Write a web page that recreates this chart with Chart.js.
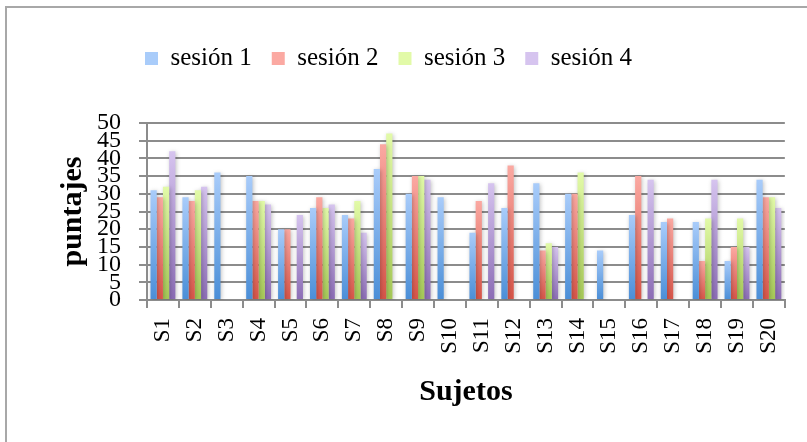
<!DOCTYPE html>
<html>
<head>
<meta charset="utf-8">
<script src="https://cdn.jsdelivr.net/npm/chart.js@4/dist/chart.umd.min.js"></script>
<style>
  html, body { margin: 0; padding: 0; background: #ffffff; }
  #wrap { width: 807px; height: 442px; position: relative; }
</style>
</head>
<body>
<div id="wrap"><canvas id="c" width="807" height="442"></canvas></div>
<script>
// Subjects on the x axis
const sujetos = ['S1','S2','S3','S4','S5','S6','S7','S8','S9','S10',
                 'S11','S12','S13','S14','S15','S16','S17','S18','S19','S20'];

// Scores per session (null = no score recorded)
const sesion1 = [31, 29, 36, 35, 20, 26, 24, 37, 30, 29, 19, 26, 33, 30, 14, 24, 22, 22, 11, 34];
const sesion2 = [29, 28, null, 28, 20, 29, 23, 44, 35, null, 28, 38, 14, 30, null, 35, 23, 11, 15, 29];
const sesion3 = [32, 31, null, 28, null, 26, 28, 47, 35, null, null, null, 16, 36, null, null, null, 23, 23, 29];
const sesion4 = [42, 32, null, 27, 24, 27, 19, null, 34, null, 33, null, 15, null, null, 34, null, 34, 15, 26];

const seriesNames = ['sesión 1', 'sesión 2', 'sesión 3', 'sesión 4'];

// Y axis tick values
const yTicks = [0, 5, 10, 15, 20, 25, 30, 35, 40, 45, 50];

// Light (top) and dark (bottom) gradient stops for each session
const palettes = [
  ['#a9ccfa', '#4a8ed7'],
  ['#fba9a2', '#d75448'],
  ['#e2faa8', '#a5c856'],
  ['#d6c4ef', '#8b6cb5']
];

const SERIF = "'Liberation Serif', 'DejaVu Serif', serif";
const GRID = '#8c8c8c';
const LEGEND_TOP = 26;

function barFill(c) {
  const chart = c.chart;
  const pal = palettes[c.datasetIndex];
  const ctx = chart.ctx;
  if (c.type !== 'data') {
    // legend swatch
    const g = ctx.createLinearGradient(0, 50, 0, 64);
    g.addColorStop(0, pal[0]);
    g.addColorStop(1, pal[1]);
    return g;
  }
  if (!chart.chartArea || c.raw == null) return pal[1];
  const y = chart.scales.y;
  const top = y.getPixelForValue(c.raw);
  const bottom = y.getPixelForValue(0);
  if (bottom - top < 1) return pal[1];
  const g = ctx.createLinearGradient(0, top, 0, bottom);
  g.addColorStop(0, pal[0]);
  g.addColorStop(1, pal[1]);
  return g;
}

// Frame lines and white backdrop
const framePlugin = {
  id: 'frame',
  beforeDraw(chart) {
    const ctx = chart.ctx;
    ctx.save();
    ctx.fillStyle = '#ffffff';
    ctx.fillRect(0, 0, chart.width, chart.height);
    ctx.strokeStyle = '#a8a8a8';
    ctx.lineWidth = 2;
    ctx.beginPath();
    ctx.moveTo(6, 442);
    ctx.lineTo(6, 7);
    ctx.lineTo(807, 7);
    ctx.stroke();
    ctx.restore();
  }
};

// Place the legend row above the plot
const legendPlacer = {
  id: 'legendPlacer',
  afterLayout(chart) {
    const lg = chart.legend;
    if (!lg) return;
    const h = lg.height;
    lg.top = LEGEND_TOP;
    lg.bottom = LEGEND_TOP + h;
    lg.left = 125;
    lg.right = 807;
  }
};

// Soft drop shadow under the bars
const barShadow = {
  id: 'barShadow',
  beforeDatasetsDraw(chart) {
    const ctx = chart.ctx;
    ctx.save();
    ctx.shadowColor = 'rgba(0,0,0,0.25)';
    ctx.shadowBlur = 4;
    ctx.shadowOffsetX = 1;
    ctx.shadowOffsetY = 1;
  },
  afterDatasetsDraw(chart) {
    chart.ctx.restore();
  }
};

const allSeries = [sesion1, sesion2, sesion3, sesion4];

new Chart(document.getElementById('c'), {
  type: 'bar',
  data: {
    labels: sujetos,
    datasets: allSeries.map((d, i) => ({
      label: seriesNames[i],
      data: d,
      backgroundColor: barFill,
      borderWidth: 0,
      categoryPercentage: 0.78,
      barPercentage: 1.0
    }))
  },
  options: {
    responsive: false,
    animation: false,
    color: '#000000',
    layout: { padding: { top: 68, right: 20, bottom: 0, left: 0 } },
    plugins: {
      tooltip: { enabled: false },
      legend: {
        position: 'top',
        align: 'start',
        labels: {
          boxWidth: 13,
          boxHeight: 13,
          padding: 20,
          color: '#000000',
          font: { family: SERIF, size: 25 }
        }
      }
    },
    scales: {
      x: {
        grid: {
          display: true,
          drawOnChartArea: false,
          drawTicks: true,
          tickLength: 8,
          color: GRID,
          lineWidth: 2
        },
        border: { display: true, color: GRID, width: 2 },
        ticks: {
          autoSkip: false,
          minRotation: 90,
          maxRotation: 90,
          padding: 10,
          color: '#000000',
          font: { family: SERIF, size: 23 }
        },
        title: {
          display: true,
          text: 'Sujetos',
          color: '#000000',
          font: { family: SERIF, size: 30, weight: 'bold' },
          padding: { top: 0, bottom: 32 }
        },
        afterFit(scale) { scale.height = 142; }
      },
      y: {
        min: 0,
        max: 50,
        afterBuildTicks(scale) {
          scale.ticks = yTicks.map(v => ({ value: v }));
        },
        grid: {
          color: GRID,
          lineWidth: 2,
          drawTicks: true,
          tickLength: 8
        },
        border: { display: true, color: GRID, width: 2 },
        ticks: {
          autoSkip: false,
          padding: 18,
          color: '#000000',
          font: { family: SERIF, size: 24 }
        },
        title: {
          display: true,
          text: 'puntajes',
          color: '#000000',
          font: { family: SERIF, size: 30, weight: 'bold' },
          padding: { top: 55, bottom: 0 }
        },
        afterFit(scale) { scale.width = 147; }
      }
    }
  },
  plugins: [framePlugin, legendPlacer, barShadow]
});
</script>
</body>
</html>
